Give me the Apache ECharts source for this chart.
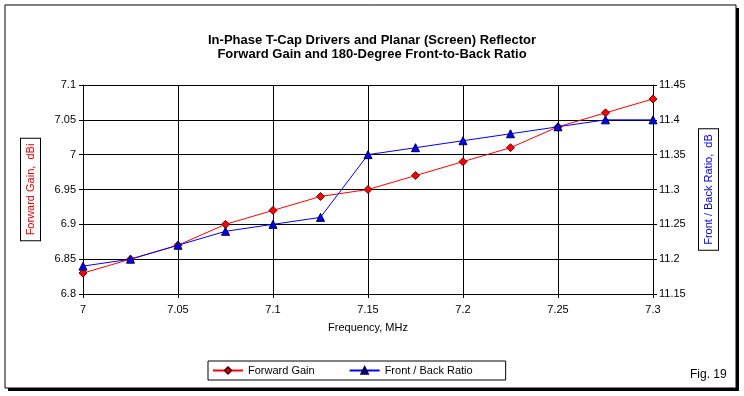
<!DOCTYPE html>
<html>
<head>
<meta charset="utf-8">
<script src="https://cdn.jsdelivr.net/npm/echarts@6/dist/echarts.min.js"></script>
<style>
  html, body { margin: 0; padding: 0; background: #fff; }
  #chart { width: 744px; height: 396px; }
</style>
</head>
<body>
<div id="chart"></div>
<script>
// frequencies in MHz
const freqs = [7, 7.025, 7.05, 7.075, 7.1, 7.125, 7.15, 7.175, 7.2, 7.225, 7.25, 7.275, 7.3]
// forward gain, dBi (left axis)
const gain = [6.83, 6.85, 6.87, 6.90, 6.92, 6.94, 6.95, 6.97, 6.99, 7.01, 7.04, 7.06, 7.08]
// front / back ratio, dB (right axis)
const ratio = [11.19, 11.20, 11.22, 11.24, 11.25, 11.26, 11.35, 11.36, 11.37, 11.38, 11.39, 11.40, 11.40]

const font = 'Liberation Sans, Arial, sans-serif'
const fmt = v => String(parseFloat(v.toFixed(3)))

const chart = echarts.init(document.getElementById('chart'))
chart.setOption({
  animation: false,
  backgroundColor: '#fff',
  title: {
    text: 'In-Phase T-Cap Drivers and Planar (Screen) Reflector\nForward Gain and 180-Degree Front-to-Back Ratio',
    left: 'center',
    top: 28,
    textStyle: {
      fontFamily: 'Liberation Sans Narrow, Arial Narrow, sans-serif',
      fontWeight: 'bold',
      fontSize: 13,
      lineHeight: 14,
      color: '#000'
    }
  },
  grid: { left: 83, right: 91, top: 85, bottom: 102 },
  legend: {
    left: 208,
    top: 361,
    padding: [4, 33, 4, 4],
    borderColor: '#000',
    borderWidth: 1,
    backgroundColor: '#fff',
    itemWidth: 30,
    itemHeight: 8,
    itemGap: 34,
    textStyle: { fontFamily: font, fontSize: 11, color: '#000' },
    data: ['Forward Gain', 'Front / Back Ratio']
  },
  xAxis: {
    type: 'value',
    min: 7,
    max: 7.3,
    interval: 0.05,
    name: 'Frequency, MHz',
    nameLocation: 'middle',
    nameGap: 28,
    nameTextStyle: { fontFamily: font, fontSize: 11, color: '#000' },
    axisLine: { lineStyle: { color: '#000', width: 1 } },
    axisTick: { show: true, length: 4, lineStyle: { color: '#000' } },
    axisLabel: { formatter: fmt, fontFamily: font, fontSize: 11, color: '#000', margin: 10 },
    splitLine: { show: true, lineStyle: { color: '#000', width: 1 } }
  },
  yAxis: [
    {
      type: 'value',
      min: 6.8,
      max: 7.1,
      interval: 0.05,
      name: 'Forward Gain,  dBi',
      nameLocation: 'middle',
      nameRotate: 90,
      nameGap: 43,
      nameTextStyle: {
        fontFamily: font, fontSize: 11, color: '#e00000',
        borderColor: '#000', borderWidth: 1, padding: [4, 5, 4, 5], backgroundColor: '#fff'
      },
      axisLine: { show: true, lineStyle: { color: '#000' } },
      axisTick: { show: true, length: 4, lineStyle: { color: '#000' } },
      axisLabel: { formatter: fmt, fontFamily: font, fontSize: 11, color: '#000', margin: 7 },
      splitLine: { show: true, lineStyle: { color: '#000', width: 1 } }
    },
    {
      type: 'value',
      min: 11.15,
      max: 11.45,
      interval: 0.05,
      name: 'Front / Back Ratio,  dB',
      nameLocation: 'middle',
      nameRotate: 90,
      nameGap: 46,
      nameTextStyle: {
        fontFamily: font, fontSize: 11, color: '#0000e0',
        borderColor: '#000', borderWidth: 1, padding: [4, 5, 4, 5], backgroundColor: '#fff'
      },
      axisLine: { show: true, lineStyle: { color: '#000' } },
      axisTick: { show: true, length: 4, lineStyle: { color: '#000' } },
      axisLabel: { formatter: fmt, fontFamily: font, fontSize: 11, color: '#000', margin: 6 },
      splitLine: { show: false }
    }
  ],
  series: [
    {
      name: 'Forward Gain',
      type: 'line',
      yAxisIndex: 0,
      data: freqs.map((f, i) => [f, gain[i]]),
      symbol: 'diamond',
      symbolSize: 8,
      itemStyle: { color: '#ff0000', borderColor: '#600000', borderWidth: 1 },
      lineStyle: { color: '#ff0000', width: 1 },
      z: 3
    },
    {
      name: 'Front / Back Ratio',
      type: 'line',
      yAxisIndex: 1,
      data: freqs.map((f, i) => [f, ratio[i]]),
      symbol: 'triangle',
      symbolSize: 8,
      itemStyle: { color: '#0000ff', borderColor: '#000040', borderWidth: 1 },
      lineStyle: { color: '#0000ff', width: 1 },
      z: 4
    }
  ],
  graphic: [
    { type: 'rect', shape: { x: 8, y: 8, width: 731, height: 383 }, style: { fill: '#000' }, z: -10 },
    { type: 'rect', shape: { x: 5, y: 5, width: 731, height: 383 }, style: { fill: '#fff', stroke: '#000', lineWidth: 1 }, z: -9 },
    {
      type: 'text', left: 690, top: 369, z: 10,
      style: { text: 'Fig. 19', fontFamily: font, fontSize: 12, fill: '#000' }
    }
  ]
})
</script>
</body>
</html>
